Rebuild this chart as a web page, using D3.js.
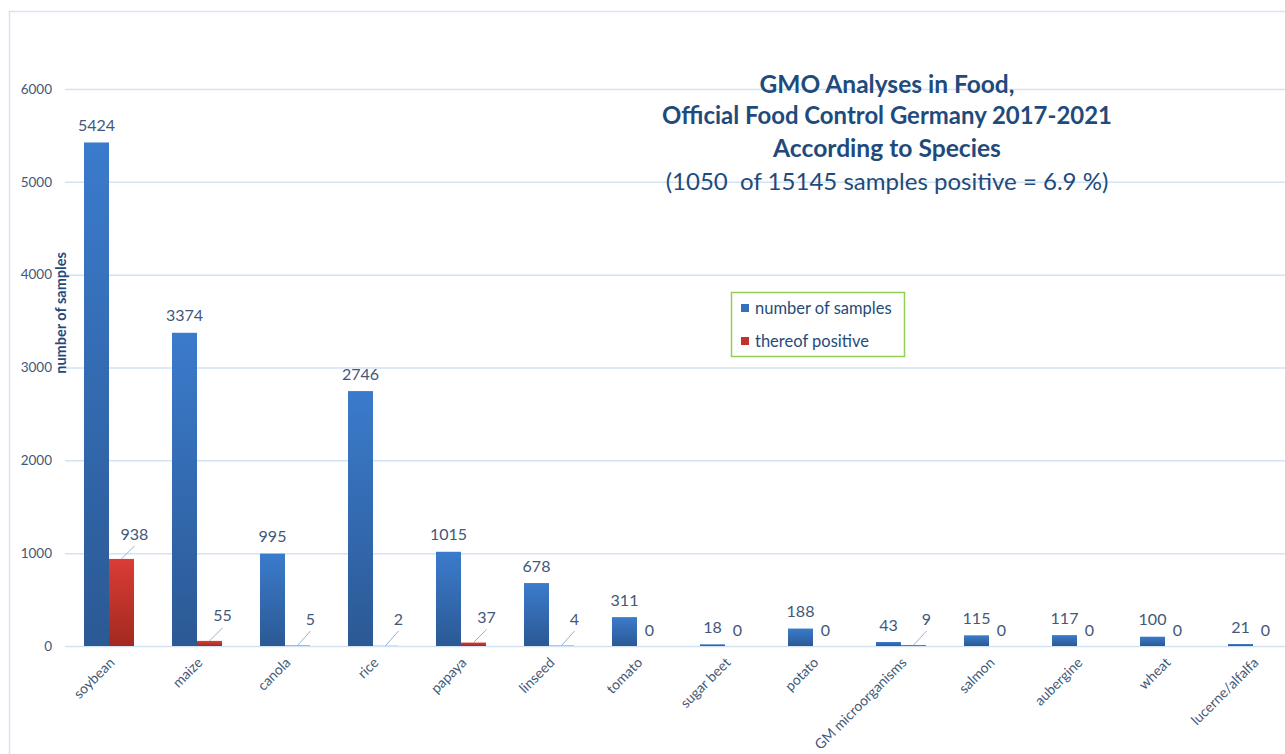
<!DOCTYPE html>
<meta charset="utf-8">
<script src="https://d3js.org/d3.v7.min.js"></script>
<title>GMO Analyses in Food</title>
<style>
  body { margin: 0; background: white; }
  text { font-family: Lato, "Open Sans", sans-serif; white-space: pre; }
</style>
<div id="chart"></div>
<script>
// data
var categories = ["soybean", "maize", "canola", "rice", "papaya", "linseed", "tomato",
  "sugar beet", "potato", "GM microorganisms", "salmon", "aubergine", "wheat", "lucerne/alfalfa"];
var samples  = [5424, 3374, 995, 2746, 1015, 678, 311, 18, 188, 43, 115, 117, 100, 21];
var positive = [938, 55, 5, 2, 37, 4, 0, 0, 0, 9, 0, 0, 0, 0];
var yTicks = [0, 1000, 2000, 3000, 4000, 5000, 6000];
var seriesNames = ["number of samples", "thereof positive"];
var titleLines = ["GMO Analyses in Food,", "Official Food Control Germany 2017-2021",
  "According to Species", "(1050  of 15145 samples positive = 6.9 %)"];

var W = 1285, H = 754;
var svg = d3.select("#chart").append("svg")
    .attr("width", W)
    .attr("height", H);

var defs = svg.append("defs");
function grad(id, top, bottom) {
  var g = defs.append("linearGradient").attr("id", id)
    .attr("x1", 0).attr("y1", 0).attr("x2", 0).attr("y2", 1);
  g.append("stop").attr("offset", "0%").attr("stop-color", top);
  g.append("stop").attr("offset", "100%").attr("stop-color", bottom);
}
grad("gBlue", "#3b7bcc", "#2b5994");
grad("gRed", "#d93d36", "#a3291f");

// chart area frame
svg.append("rect")
  .attr("x", 9.5).attr("y", 11.5)
  .attr("width", 1300).attr("height", 800)
  .attr("fill", "white")
  .attr("stroke", "#d5e3f3")
  .attr("stroke-width", 1.5);

var x0 = d3.scaleBand().domain(categories).range([65, 1297]);
var x1 = d3.scaleBand().domain(["samples", "positive"])
  .range([x0.bandwidth() * 0.216, x0.bandwidth() * 0.784]);
var y = d3.scaleLinear().domain([0, 6000]).range([646, 89]);

var labelColor = "#41587a";
var darkBlue = "#1f4b7c";

// gridlines + tick labels
svg.append("g").selectAll("line").data(yTicks).enter().append("line")
  .attr("x1", 65).attr("x2", W)
  .attr("y1", function(d) { return y(d) + 0.5; })
  .attr("y2", function(d) { return y(d) + 0.5; })
  .attr("stroke", "#d3e2f4")
  .attr("stroke-width", 1.5);

svg.append("g").selectAll("text").data(yTicks).enter().append("text")
  .attr("x", 52)
  .attr("y", function(d) { return y(d); })
  .attr("dy", "0.35em")
  .attr("text-anchor", "end")
  .style("font-size", "13.5px")
  .style("fill", labelColor)
  .text(function(d) { return d; });

svg.append("text")
  .attr("transform", "translate(66,313) rotate(-90)")
  .attr("text-anchor", "middle")
  .style("font-size", "14.5px")
  .style("font-weight", "bold")
  .style("fill", darkBlue)
  .text("number of samples");

// bars
var rows = categories.map(function(c, i) {
  return { cat: c, samples: samples[i], positive: positive[i] };
});

var groups = svg.append("g").selectAll("g").data(rows).enter().append("g")
  .attr("transform", function(d) { return "translate(" + x0(d.cat) + ",0)"; });

groups.append("rect")
  .attr("x", x1("samples"))
  .attr("width", x1.bandwidth())
  .attr("y", function(d) { return y(d.samples); })
  .attr("height", function(d) { return y(0) - y(d.samples); })
  .attr("fill", "url(#gBlue)");

groups.append("rect")
  .attr("x", x1("positive"))
  .attr("width", x1.bandwidth())
  .attr("y", function(d) { return y(d.positive); })
  .attr("height", function(d) { return y(0) - y(d.positive); })
  .attr("fill", "url(#gRed)");

// value labels
groups.append("text")
  .attr("x", x1("samples") + x1.bandwidth() / 2)
  .attr("y", function(d) { return y(d.samples) - 17; })
  .attr("dy", "0.35em")
  .attr("text-anchor", "middle")
  .style("font-size", "16px")
  .style("fill", labelColor)
  .text(function(d) { return d.samples; });

var redMid = x1("positive") + x1.bandwidth() / 2;
function posLabelY(d) { return d.positive > 0 ? Math.min(y(d.positive) - 25, 619) : 630; }
function posLabelX(d) { return d.positive > 0 ? redMid + 13 : redMid; }

groups.filter(function(d) { return d.positive > 0; }).append("line")
  .attr("x1", redMid)
  .attr("y1", function(d) { return y(d.positive); })
  .attr("x2", redMid + 13)
  .attr("y2", function(d) { return posLabelY(d) + 12; })
  .attr("stroke", "#8fb3e0")
  .attr("stroke-width", 1);

groups.append("text")
  .attr("x", posLabelX)
  .attr("y", posLabelY)
  .attr("dy", "0.35em")
  .attr("text-anchor", "middle")
  .style("font-size", "16px")
  .style("fill", labelColor)
  .text(function(d) { return d.positive; });

// category labels
groups.append("text")
  .attr("transform", function() {
    return "translate(" + (x0.bandwidth() / 2 + 3) + ",660) rotate(-45)";
  })
  .attr("text-anchor", "end")
  .attr("dy", "0.35em")
  .style("font-size", "14px")
  .style("fill", labelColor)
  .text(function(d) { return d.cat; });

// title
var titleY = [93, 124, 157, 190];
var titleW = [255, 450, 228, 443];
titleLines.forEach(function(t, i) {
  var tx = svg.append("text")
    .attr("x", 887)
    .attr("y", titleY[i])
    .attr("text-anchor", "middle")
    .style("font-size", "22px")
    .style("font-weight", i < 3 ? "bold" : "normal")
    .style("fill", darkBlue)
    .text(t);
  var len = tx.node().getComputedTextLength();
  tx.style("font-size", (22 * titleW[i] / len).toFixed(2) + "px");
});

// legend
var legend = svg.append("g").attr("transform", "translate(731,292)");
legend.append("rect")
  .attr("x", 0.5).attr("y", 0.5)
  .attr("width", 173).attr("height", 64)
  .attr("fill", "white")
  .attr("stroke", "#92cf56")
  .attr("stroke-width", 1.5);

var li = legend.selectAll("g.item").data(seriesNames).enter().append("g")
  .attr("class", "item")
  .attr("transform", function(d, i) { return "translate(10," + (16 + i * 33) + ")"; });
li.append("rect")
  .attr("x", 0).attr("y", -4)
  .attr("width", 8).attr("height", 8)
  .attr("fill", function(d, i) { return i === 0 ? "#3670bd" : "#c0322c"; });
li.append("text")
  .attr("x", 14)
  .attr("dy", "0.35em")
  .style("font-size", "16.5px")
  .style("fill", darkBlue)
  .text(function(d) { return d; });
</script>
